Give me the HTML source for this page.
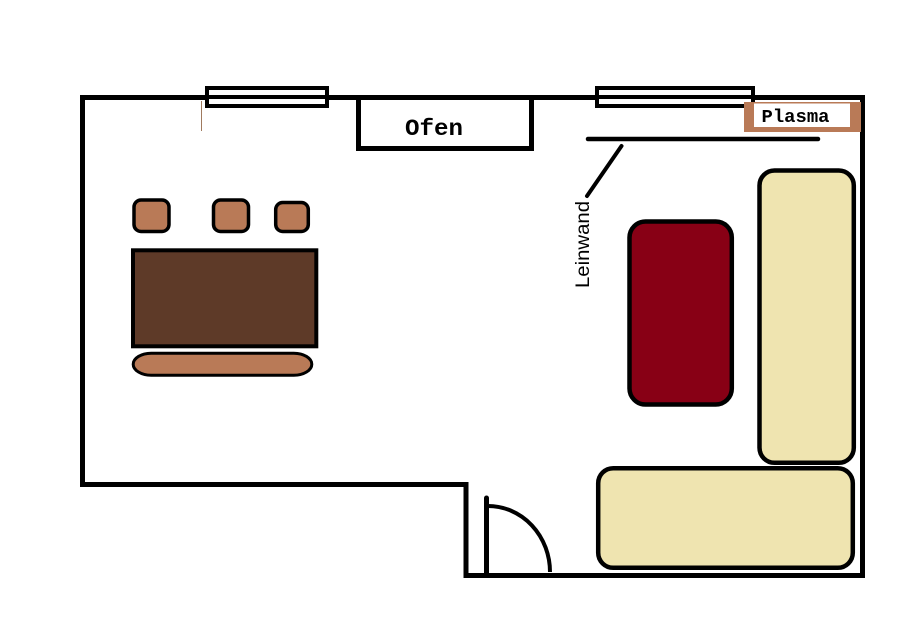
<!DOCTYPE html>
<html>
<head>
<meta charset="utf-8">
<style>
  html, body { margin:0; padding:0; background:#ffffff; }
  svg { display:block; }
</style>
</head>
<body>
<svg width="909" height="640" viewBox="0 0 909 640" xmlns="http://www.w3.org/2000/svg">
  <rect x="0" y="0" width="909" height="640" fill="#ffffff"/>

  <!-- Walls -->
  <path d="M82.5 97.5 H862.5 V575.5 H466 V484.5 H82.5 Z" fill="none" stroke="#000" stroke-width="5" stroke-linejoin="miter"/>

  <!-- thin brown mark -->
  <line x1="201.5" y1="101" x2="201.5" y2="131" stroke="#a07a5e" stroke-width="1"/>

  <!-- Window 1 -->
  <rect x="207" y="88" width="120" height="18" fill="#fff" stroke="#000" stroke-width="4"/>
  <line x1="207" y1="97" x2="327" y2="97" stroke="#000" stroke-width="4"/>

  <!-- Window 2 -->
  <rect x="597" y="88" width="156" height="18" fill="#fff" stroke="#000" stroke-width="4"/>
  <line x1="597" y1="97" x2="753" y2="97" stroke="#000" stroke-width="4"/>

  <!-- Ofen -->
  <rect x="358.5" y="97.5" width="173" height="51" fill="#fff" stroke="#000" stroke-width="5"/>
  <text x="405" y="135" font-family="'Liberation Mono', monospace" font-size="23" font-weight="bold" textLength="58" lengthAdjust="spacingAndGlyphs" fill="#000">Ofen</text>

  <!-- Plasma -->
  <rect x="744" y="102" width="117" height="30" fill="#b97a57"/>
  <rect x="754" y="103.5" width="96" height="23.5" fill="#fff"/>
  <text x="761.5" y="122" font-family="'Liberation Mono', monospace" font-size="18" font-weight="bold" textLength="68" lengthAdjust="spacingAndGlyphs" fill="#000">Plasma</text>

  <!-- Leinwand -->
  <line x1="588" y1="139" x2="818" y2="139" stroke="#000" stroke-width="4.5" stroke-linecap="round"/>
  <line x1="621.5" y1="146" x2="587" y2="196" stroke="#000" stroke-width="4" stroke-linecap="round"/>
  <text transform="translate(589,288) rotate(-90)" x="0" y="0" font-family="'Liberation Sans', sans-serif" font-size="19.5" textLength="87" lengthAdjust="spacingAndGlyphs" fill="#000">Leinwand</text>

  <!-- Chairs -->
  <rect x="134" y="200" width="35" height="31.5" rx="7" fill="#b97a57" stroke="#000" stroke-width="3.5"/>
  <rect x="213.5" y="200" width="35" height="31.5" rx="7" fill="#b97a57" stroke="#000" stroke-width="3.5"/>
  <rect x="275.7" y="202.5" width="32.6" height="29" rx="7" fill="#b97a57" stroke="#000" stroke-width="3.5"/>

  <!-- Table -->
  <rect x="133" y="250.3" width="183.3" height="96" fill="#5e3a28" stroke="#000" stroke-width="4"/>

  <!-- Bench -->
  <rect x="133.2" y="353.2" width="178.6" height="22" rx="18" ry="11" fill="#b97a57" stroke="#000" stroke-width="3"/>

  <!-- Red armchair -->
  <rect x="629.5" y="221.5" width="102.3" height="183" rx="16" fill="#880015" stroke="#000" stroke-width="4.5"/>

  <!-- Right sofa -->
  <rect x="759.5" y="170.5" width="94.3" height="292.3" rx="15" fill="#efe4b0" stroke="#000" stroke-width="4.5"/>

  <!-- Bottom sofa -->
  <rect x="598.2" y="468.2" width="254.6" height="99.6" rx="15" fill="#efe4b0" stroke="#000" stroke-width="4.5"/>

  <!-- Door -->
  <line x1="486.5" y1="498" x2="486.5" y2="575" stroke="#000" stroke-width="5" stroke-linecap="round"/>
  <path d="M488 506 A62 66 0 0 1 550 572" fill="none" stroke="#000" stroke-width="4"/>
</svg>
</body>
</html>
